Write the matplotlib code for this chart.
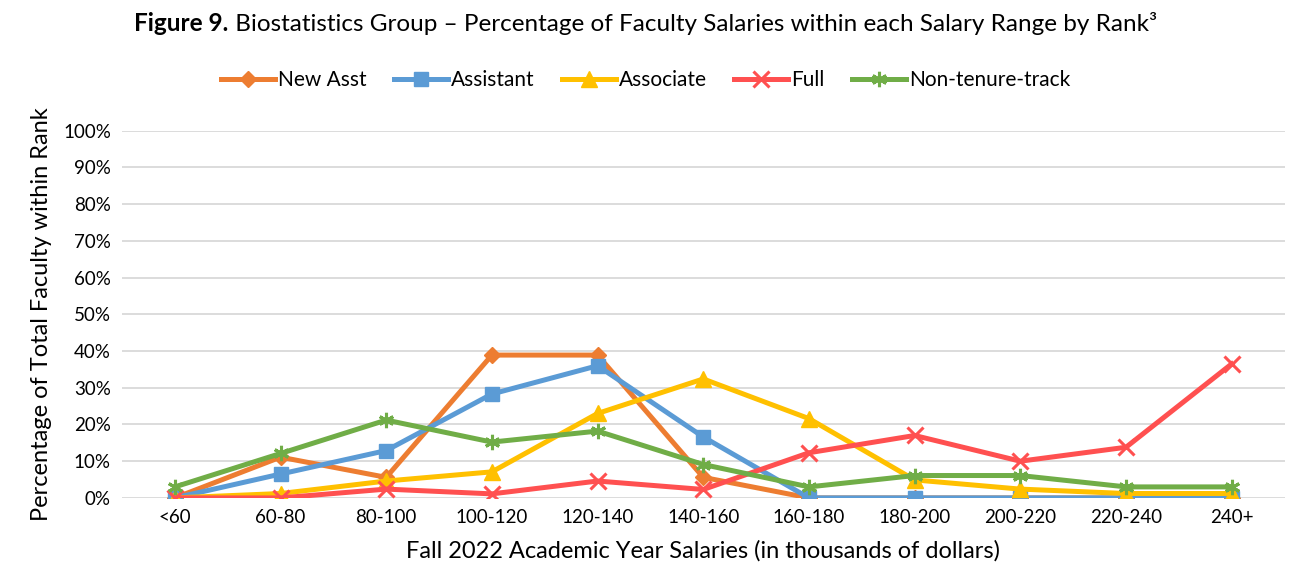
import numpy as np
import matplotlib
matplotlib.use("Agg")
from matplotlib import pyplot as plt
from matplotlib.ticker import PercentFormatter

plt.rcParams['font.family'] = ['Lato', 'DejaVu Sans']

# salary ranges (thousands of dollars)
ranges = ["<60", "60-80", "80-100", "100-120", "120-140", "140-160",
          "160-180", "180-200", "200-220", "220-240", "240+"]

# percentage of faculty within rank
new_asst = [0, 11.1, 5.6, 38.9, 38.9, 5.6, 0, 0, 0, 0, 0]
assistant = [0, 6.5, 12.9, 28.3, 36.0, 16.6, 0, 0, 0, 0, 0]
associate = [0, 1.2, 4.6, 7.1, 23.0, 32.4, 21.6, 4.9, 2.4, 1.2, 1.2]
full = [0, 0, 2.4, 1.1, 4.6, 2.3, 12.3, 17.0, 10.0, 13.8, 36.5]
non_tenure = [3.0, 12.1, 21.2, 15.2, 18.2, 9.1, 3.0, 6.1, 6.1, 3.0, 3.0]

series = [
    ("New Asst", new_asst, "#ED7D31", "D", 8),
    ("Assistant", assistant, "#5B9BD5", "s", 10),
    ("Associate", associate, "#FFC000", "^", 11),
    ("Full", full, "#FF5050", "x", 11),
    ("Non-tenure-track", non_tenure, "#70AD47", (6, 2, 0), 11),
]

fig = plt.figure(figsize=(12.91, 5.81), dpi=100)
ax = fig.add_axes([0.0945, 0.143, 0.9005, 0.632])

x = np.arange(len(ranges))
for name, vals, col, mk, ms in series:
    ax.plot(x, vals, color=col, lw=3.6, marker=mk, markersize=ms,
            markeredgewidth=2.2 if mk in ("x", (6, 2, 0)) else 1,
            markeredgecolor=col, markerfacecolor=col, label=name,
            solid_joinstyle="round")

ax.set_xlim(-0.5, len(ranges) - 0.5)
ax.set_ylim(0, 100)
ax.set_yticks(np.arange(0, 101, 10))
ax.yaxis.set_major_formatter(PercentFormatter(decimals=0))
ax.set_xticks(x)
ax.set_xticklabels(ranges)
ax.tick_params(length=0, labelsize=13.5, colors="#000000", pad=8)
ax.grid(axis="y", color="#D9D9D9", lw=1.3)
ax.set_axisbelow(True)
for s in ax.spines.values():
    s.set_visible(False)

ax.set_xlabel("Fall 2022 Academic Year Salaries (in thousands of dollars)",
              fontsize=17, labelpad=10)
ax.set_ylabel("Percentage of Total Faculty within Rank", fontsize=17, labelpad=8)

leg = fig.legend(loc="center", bbox_to_anchor=(0.5, 0.862), ncol=5, frameon=False,
                 fontsize=15, handlelength=2.6, columnspacing=1.3, handletextpad=0.15)

# title: bold "Figure 9." followed by regular text
fig.canvas.draw()
r = fig.canvas.get_renderer()
t1 = fig.text(0.5, 0.96, "Figure 9.", fontsize=17.5, fontweight="bold", va="center")
t2 = fig.text(0.5, 0.96, " Biostatistics Group \u2013 Percentage of Faculty Salaries within each Salary Range by Rank\u00b3",
              fontsize=17.5, va="center")
w1 = t1.get_window_extent(r).width
w2 = t2.get_window_extent(r).width
W = fig.bbox.width
x0 = (W - w1 - w2) / 2 / W
t1.set_x(x0)
t2.set_x(x0 + w1 / W)

fig.savefig("out.png", dpi=100)
